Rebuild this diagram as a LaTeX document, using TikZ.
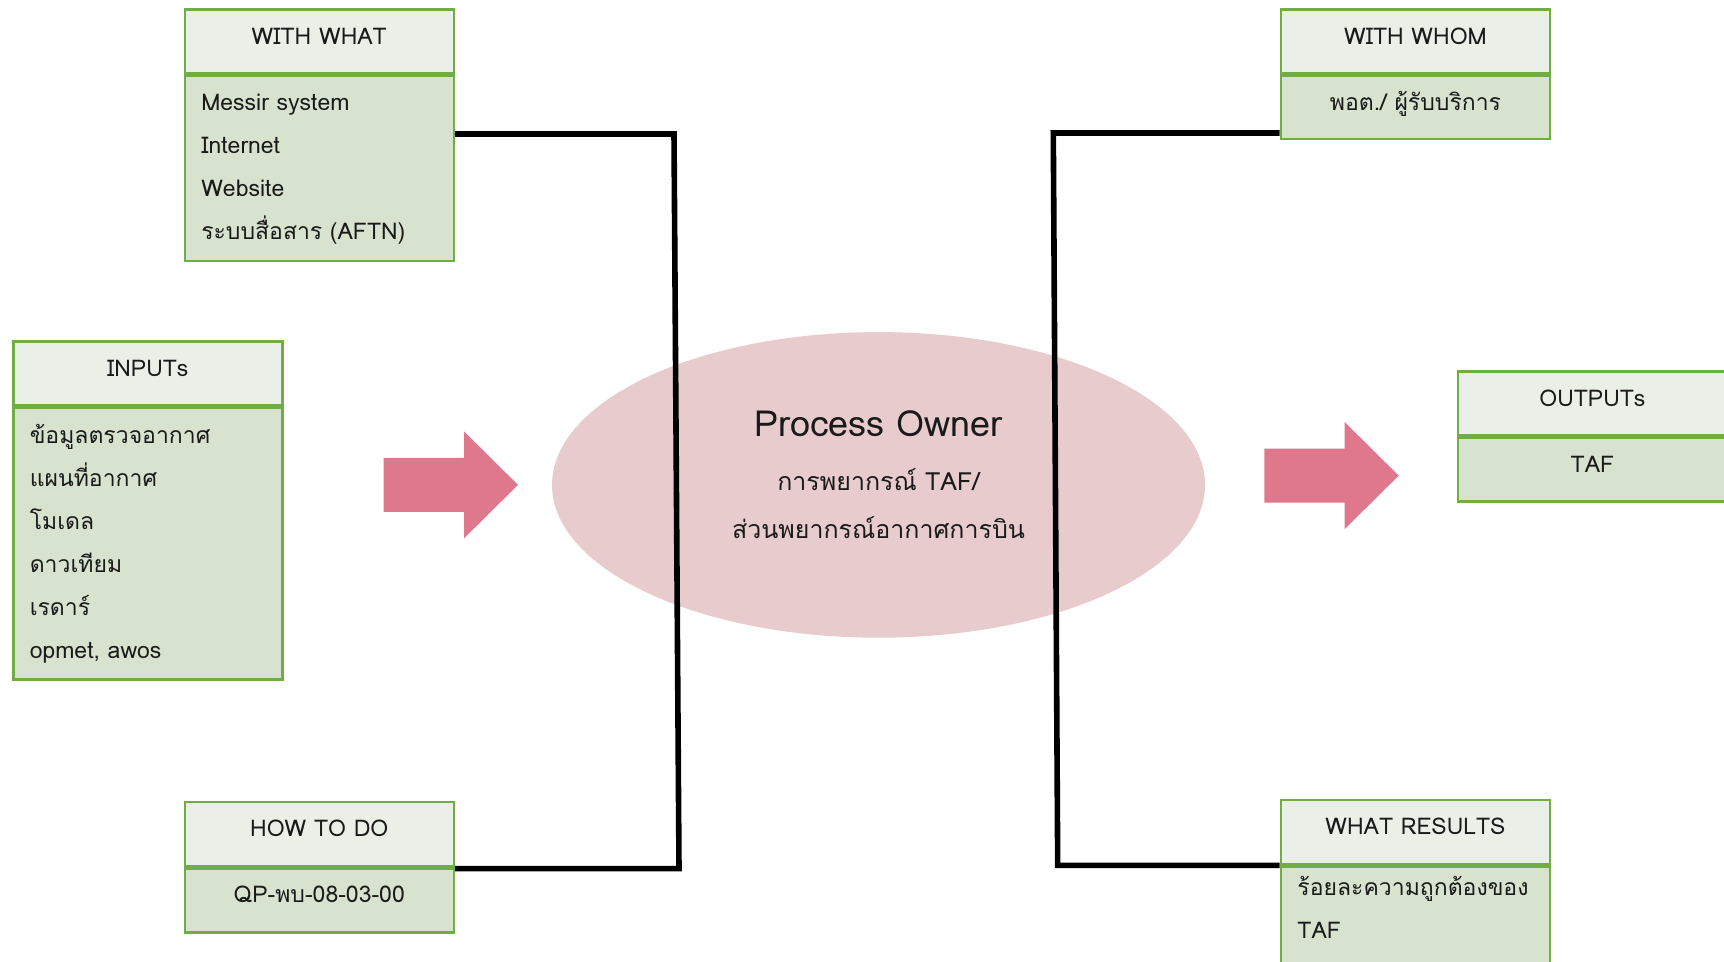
\documentclass[tikz,border=0pt]{standalone}
\usepackage{fontspec}
\setmainfont{Loma}[Script=Thai]
\usepackage{tikz}
\usetikzlibrary{positioning,shapes.geometric}
\definecolor{edge}{HTML}{70AD47}
\definecolor{headbg}{HTML}{EAEFE8}
\definecolor{bodybg}{HTML}{D7E3CF}
\definecolor{ownerbg}{HTML}{E8CBCC}
\definecolor{pink}{HTML}{E0788D}
\definecolor{ink}{HTML}{1A1A1A}
\tikzset{
  head/.style={draw=edge, fill=headbg, line width=1.25pt, minimum width=134.5pt,
    minimum height=32pt, inner sep=0pt, text=ink, text height=8.3pt, text depth=5.5pt,
    font=\fontsize{11.5}{14}\selectfont},
  body/.style={draw=edge, fill=bodybg, line width=1.25pt, text width=118pt,
    inner xsep=8.25pt, inner ysep=0pt, text=ink, align=left,
    font=\fontsize{11.5}{21.5}\selectfont, below=0pt of #1},
  bodyc/.style={body=#1, align=center, text height=8.3pt, text depth=6pt},
  link/.style={line width=2.8pt, draw=black},
  ownerblob/.style={ellipse, fill=ownerbg, minimum width=326.5pt, minimum height=152.8pt,
    inner sep=0pt},
  ownertext/.style={align=center, text=ink, font=\fontsize{12.5}{24}\selectfont},
  bigarrow/.style={fill=pink}
}
\begin{document}
\begin{tikzpicture}[x=0.5pt, y=-0.5pt]
  \path[use as bounding box, clip] (0,0) rectangle (1724,962);

  \node[ownerblob] (owner) at (878.5,484.9) {};
  \node[ownertext] (ownerlbl) at ([yshift=5pt]owner.center)
    {{\fontsize{18}{24}\selectfont Process Owner}\\[3pt]
     การพยากรณ์ TAF/\\ส่วนพยากรณ์อากาศการบิน};

  \foreach \ax/\ay in {383.7/484.9, 1264.4/475.6}
    \fill[bigarrow] (\ax,\ay) ++(0,-27) -- ++(80.3,0) -- ++(0,-26.5) -- ++(54,53.5)
      -- ++(-54,53.5) -- ++(0,-26.5) -- ++(-80.3,0) -- cycle;

  % left side
  \node[head, anchor=north west] (wwhat) at (183.5,8.5) {WITH WHAT};
  \node[body=wwhat, minimum height=92.5pt] (wwhatB)
    {Messir system\\Internet\\Website\\ระบบสื่อสาร (AFTN)};

  \node[head, anchor=north west] (inputs) at (12,340.5) {INPUTs};
  \node[body=inputs, minimum height=135.5pt] (inputsB)
    {ข้อมูลตรวจอากาศ\\แผนที่อากาศ\\โมเดล\\ดาวเทียม\\เรดาร์\\opmet, awos};

  \node[head, anchor=north west] (howto) at (183.5,800.5) {HOW TO DO};
  \node[bodyc=howto, minimum height=32pt] (howtoB) {QP-พบ-08-03-00};

  % right side
  \node[head, anchor=north west] (wwhom) at (1279.7,8.5) {WITH WHOM};
  \node[bodyc=wwhom, minimum height=31.5pt] (wwhomB) {พอต./ ผู้รับบริการ};

  \node[head, anchor=north west] (outputs) at (1456.7,370.5) {OUTPUTs};
  \node[bodyc=outputs, minimum height=31.5pt] (outputsB) {TAF};

  \node[head, anchor=north west] (wres) at (1279.7,798.5) {WHAT RESULTS};
  \node[body=wres, inner ysep=5pt, text depth=60pt] (wresB)
    {ร้อยละความถูกต้องของ\\TAF};

  % connectors
  \coordinate (lbend) at (674,134);
  \coordinate (lfoot) at (679,868.6);
  \draw[link] (wwhatB.east |- lbend) -- (lbend) -- (lfoot) -- (howtoB.east |- lfoot);

  \coordinate (rbend) at (1053.3,133);
  \coordinate (rfoot) at (1057.7,865.3);
  \draw[link] (wwhomB.west |- rbend) -- (rbend) -- (rfoot) -- (wresB.west |- rfoot);
\end{tikzpicture}
\end{document}
